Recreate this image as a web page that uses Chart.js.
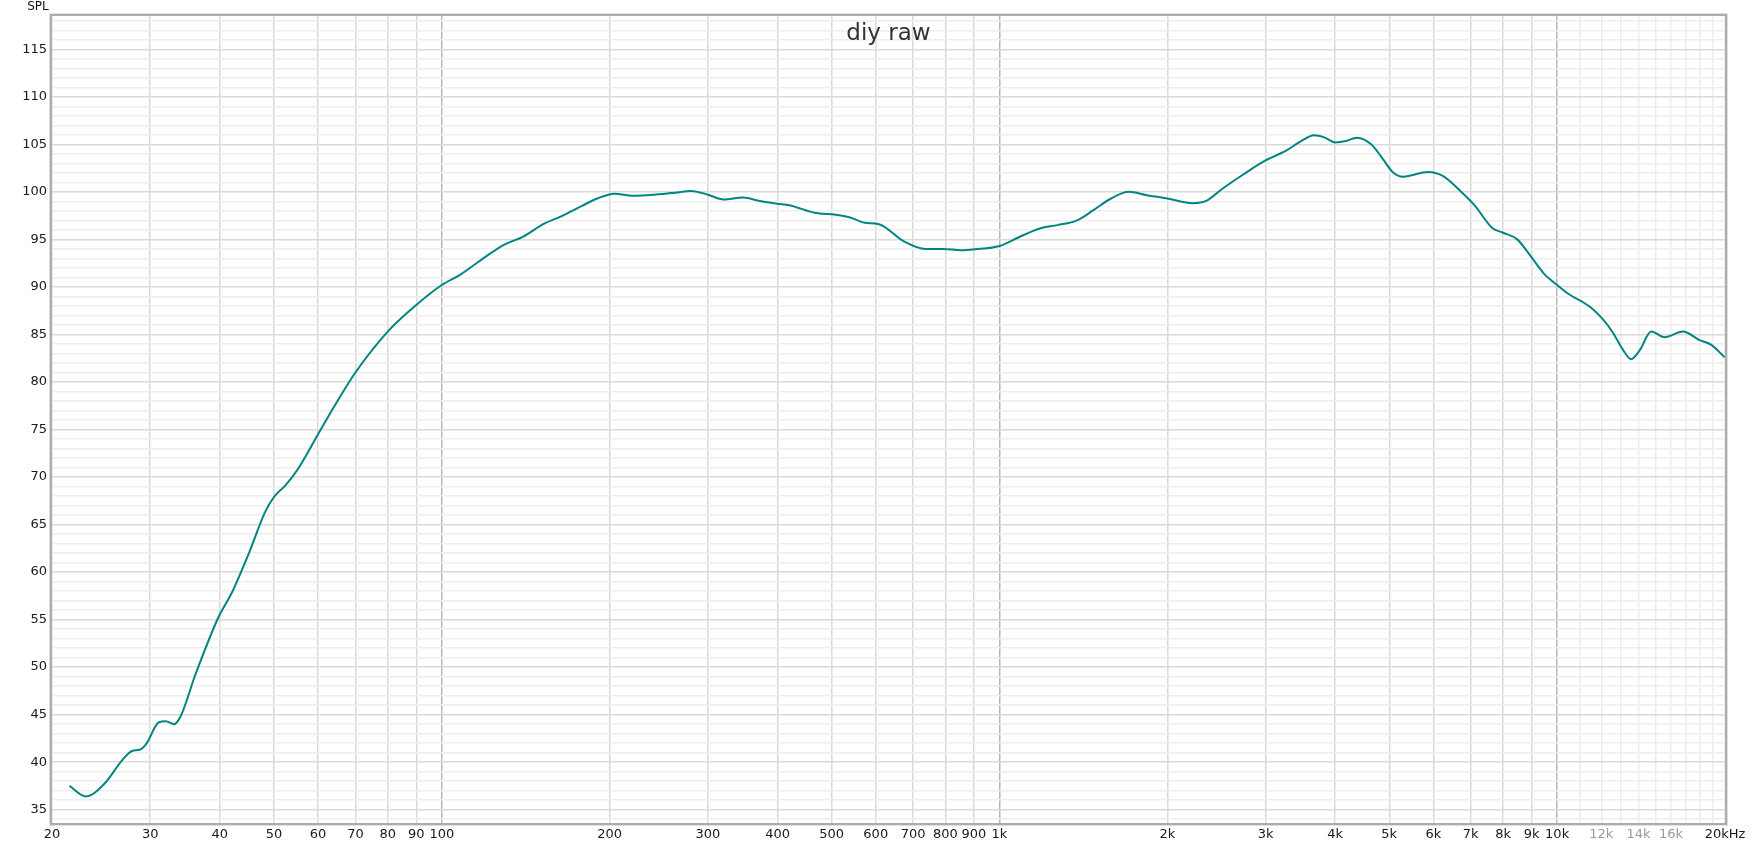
<!DOCTYPE html>
<html>
<head>
<meta charset="utf-8">
<title>diy raw</title>
<script src="https://cdn.jsdelivr.net/npm/chart.js@4.4.1/dist/chart.umd.min.js"></script>
<style>
    body { margin: 0; background: #ffffff; }
    canvas { display: block; }
</style>
</head>
<body>
<canvas id="splChart" width="1752" height="847"></canvas>
<script>
// Datos de la curva (Hz / dB)
const freqs = [21.5, 23.0, 24.8, 26.8, 27.9, 28.7, 29.5, 31.1, 32.0, 33.1, 34.0, 36.2, 39.8, 42.0, 45.1, 48.2, 50, 52.4, 55.3, 60, 64.4, 70, 80, 90,
    100, 108, 118, 129, 140, 152, 164, 178, 190, 204, 220, 240, 262, 280, 300, 320, 347, 374, 400, 420, 466, 509, 540, 573, 608, 674, 736, 792, 853, 904,
    1000, 1081, 1181, 1271, 1378, 1472, 1585, 1706, 1836, 2000, 2223, 2358, 2500, 2732, 3000, 3260, 3457, 3667, 3832, 4000, 4184, 4375, 4640, 4850, 5068, 5297, 5871, 6226, 6704, 7108, 7650, 8000, 8480, 9000, 9471,
    10000, 10522, 11044, 11509, 12074, 12585, 13119, 13580, 14051, 14751, 15580, 16810, 18010, 18900, 19970];
const spl = [37.5, 36.4, 37.7, 40.3, 41.2, 41.3, 41.9, 44.2, 44.3, 44.0, 44.8, 49.3, 55.3, 57.8, 62.0, 66.3, 67.9, 69.1, 70.9, 74.5, 77.6, 81.0, 85.3, 88.1,
    90.2, 91.3, 92.9, 94.4, 95.3, 96.6, 97.45, 98.5, 99.3, 99.8, 99.6, 99.7, 99.9, 100.1, 99.7, 99.2, 99.4, 99.0, 98.75, 98.6, 97.8, 97.6, 97.3, 96.75, 96.6, 94.8, 94.0, 94.0, 93.85, 93.95,
    94.3, 95.2, 96.15, 96.5, 97.0, 98.05, 99.3, 100.0, 99.65, 99.3, 98.8, 99.1, 100.25, 101.8, 103.3, 104.3, 105.25, 105.95, 105.7, 105.2, 105.35, 105.7, 105.0, 103.6, 102.1, 101.6, 102.1, 101.7, 100.1, 98.6, 96.2, 95.7, 95.0, 93.1, 91.4,
    90.2, 89.2, 88.5, 87.8, 86.6, 85.2, 83.4, 82.4, 83.3, 85.3, 84.7, 85.3, 84.4, 83.9, 82.6];

// Marcas de los ejes
const xTicks = [20, 30, 40, 50, 60, 70, 80, 90, 100, 200, 300, 400, 500, 600, 700, 800, 900,
    1000, 2000, 3000, 4000, 5000, 6000, 7000, 8000, 9000, 10000, 11000, 12000, 13000, 14000, 15000, 16000, 17000, 18000, 19000, 20000];
const xLabels = ['20', '30', '40', '50', '60', '70', '80', '90', '100', '200', '300', '400', '500', '600', '700', '800', '900',
    '1k', '2k', '3k', '4k', '5k', '6k', '7k', '8k', '9k', '10k', '', '12k', '', '14k', '', '16k', '', '', '', '20kHz'];
const greyLabels = ['12k', '14k', '16k'];
const yTicks = [];
for (let v = 34; v <= 118; v++) yTicks.push(v);
const yLabelStep = 5;
const yLabelMax = 115;

const chartTitle = 'diy raw';
const yAxisName = 'SPL';

// Marco del área y textos extra
const framePlugin = {
    id: 'frame',
    afterDraw(chart) {
        const { ctx, chartArea: a } = chart;
        ctx.save();
        ctx.strokeStyle = '#e0e0e0';
        ctx.lineWidth = 1;
        ctx.strokeRect(a.left - 2.5, a.top - 2.5, a.right - a.left + 5, a.bottom - a.top + 5);
        ctx.strokeStyle = '#acacac';
        ctx.lineWidth = 2;
        ctx.strokeRect(a.left - 1, a.top - 1, a.right - a.left + 2, a.bottom - a.top + 2);
        ctx.fillStyle = '#333333';
        ctx.font = '23px "DejaVu Sans"';
        ctx.textAlign = 'center';
        ctx.textBaseline = 'alphabetic';
        ctx.fillText(chartTitle, (a.left + a.right) / 2, 40);
        ctx.fillStyle = '#111111';
        ctx.font = '12px "DejaVu Sans"';
        ctx.textBaseline = 'middle';
        ctx.fillText(yAxisName, 38, 7);
        ctx.restore();
    }
};

const splChart = new Chart(document.getElementById('splChart').getContext('2d'), {
    type: 'line',
    data: {
        datasets: [{
            label: chartTitle,
            data: freqs.map((f, i) => ({ x: f, y: spl[i] })),
            borderColor: '#00857f',
            borderWidth: 2,
            pointRadius: 0,
            fill: false,
            cubicInterpolationMode: 'monotone'
        }]
    },
    options: {
        responsive: false,
        animation: false,
        devicePixelRatio: 1,
        layout: { padding: { top: 16, right: 27, left: 0, bottom: 0 } },
        plugins: {
            legend: { display: false },
            tooltip: { enabled: false }
        },
        scales: {
            x: {
                type: 'logarithmic',
                min: 20,
                max: 20000,
                afterBuildTicks: (scale) => { scale.ticks = xTicks.map(v => ({ value: v })); },
                afterFit: (scale) => { scale.height = 24; },
                border: { display: false },
                grid: {
                    drawTicks: false,
                    lineWidth: 1.5,
                    color: (c) => {
                        const v = c.tick.value;
                        if (v === 100 || v === 1000 || v === 10000) return '#b8b8b8';
                        if (v > 10000) return '#ededed';
                        return '#dadada';
                    }
                },
                ticks: {
                    autoSkip: false,
                    maxRotation: 0,
                    padding: 4,
                    font: { family: 'DejaVu Sans', size: 13 },
                    color: (c) => greyLabels.includes(xLabels[c.index]) ? '#9a9a9a' : '#1a1a1a',
                    callback: (value, index) => xLabels[index]
                }
            },
            y: {
                min: 33.6,
                max: 118.5,
                afterBuildTicks: (scale) => { scale.ticks = yTicks.map(v => ({ value: v })); },
                afterFit: (scale) => { scale.width = 52; },
                border: { display: false },
                grid: {
                    drawTicks: false,
                    lineWidth: 1.5,
                    color: (c) => c.tick.value % yLabelStep === 0 ? '#dadada' : '#eeeeee'
                },
                ticks: {
                    autoSkip: false,
                    padding: 5,
                    font: { family: 'DejaVu Sans', size: 13 },
                    color: '#1a1a1a',
                    callback: (value) => (value % yLabelStep === 0 && value <= yLabelMax) ? String(value) : ''
                }
            }
        }
    },
    plugins: [framePlugin]
});
</script>
</body>
</html>
